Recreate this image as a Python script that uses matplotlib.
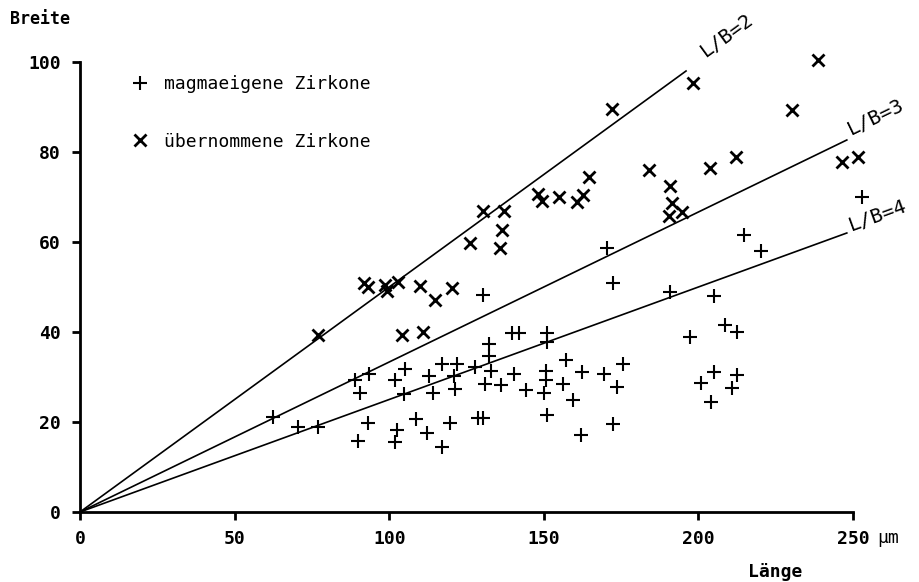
import numpy as np
import matplotlib
matplotlib.use("Agg")
import matplotlib.pyplot as plt

# magmatic zircons (+): length, width in um
magma_len = [62.5, 70.5, 77.1, 88.9, 90.6, 93.5, 93.0, 90.0, 101.8, 105.0,
             104.8, 102.4, 102.0, 108.6, 112.1, 113.0, 114.3, 117.0, 117.0, 119.6,
             120.8, 121.3, 121.8, 127.8, 128.7, 130.3, 130.2, 131.0, 132.3, 132.3,
             133.0, 136.1, 139.6, 142.1, 140.3, 144.2, 150.9, 150.9, 150.7, 150.7,
             150.1, 151.1, 156.3, 157.3, 159.5, 162.4, 162.1, 169.5, 170.5, 172.5,
             172.5, 173.7, 175.5, 190.8, 197.3, 205.0, 208.6, 212.4, 205.0, 201.0,
             204.0, 212.5, 210.8, 214.8, 220.1, 252.8]
magma_br = [21.2, 19.0, 18.8, 29.3, 26.4, 30.6, 19.7, 15.7, 29.3, 31.8,
            26.3, 18.3, 15.6, 20.7, 17.6, 30.2, 26.5, 32.8, 14.5, 19.8,
            30.3, 27.3, 32.8, 32.2, 21.0, 21.0, 48.2, 28.4, 37.3, 34.7,
            31.4, 28.3, 39.7, 39.7, 30.6, 27.2, 39.7, 37.8, 31.3, 29.4,
            26.5, 21.6, 28.5, 33.7, 25.0, 31.2, 17.1, 30.7, 58.6, 50.8,
            19.6, 27.7, 32.8, 49.0, 39.0, 48.0, 41.5, 40.0, 31.2, 28.7,
            24.5, 30.4, 27.5, 61.6, 58.1, 70.1]

# inherited zircons (x)
inh_len = [77.1, 91.7, 93.0, 98.5, 99.4, 103.0, 104.0, 110.0, 111.0, 114.9,
           120.2, 126.1, 130.4, 137.1, 136.4, 135.8, 148.0, 149.5, 155.0, 160.6,
           162.8, 164.5, 172.2, 184.0, 190.7, 191.4, 190.6, 194.8, 198.3, 203.7,
           212.3, 230.4, 238.8, 246.3, 251.7]
inh_br = [39.4, 51.0, 50.0, 50.4, 49.2, 51.2, 39.3, 50.2, 40.1, 47.1,
          49.8, 59.7, 67.0, 66.8, 62.7, 58.6, 70.7, 69.2, 70.0, 69.0,
          70.4, 74.5, 89.6, 76.0, 72.4, 68.7, 65.7, 66.6, 95.3, 76.4,
          79.0, 89.3, 100.4, 77.7, 79.0]

ratios = [2, 3, 4]
line_end = [196, 248, 248]
ratio_labels = ["L/B=2", "L/B=3", "L/B=4"]
label_off = [(22, 10), (6, 1), (6, -2)]

xticks = [0, 50, 100, 150, 200, 250]
yticks = [0, 20, 40, 60, 80, 100]

plt.rcParams['font.family'] = ['DejaVu Sans Mono', 'DejaVu Sans']

fig = plt.figure(figsize=(9.2, 5.82), dpi=100)
ax = fig.add_axes([80/920, 1-512/582, 773/920, 450/582])
ax.set_xlim(0, 250); ax.set_ylim(0, 100)

for r, xe in zip(ratios, line_end):
    ax.plot([0, xe], [0, xe/r], color='black', lw=1.2, clip_on=False)

p1, = ax.plot(magma_len, magma_br, ls='none', marker='+', ms=10.5, mew=1.5,
              color='black', clip_on=False, label='magmaeigene Zirkone')
p2, = ax.plot(inh_len, inh_br, ls='none', marker='x', ms=8.5, mew=2.0,
              color='black', clip_on=False, label='übernommene Zirkone')

# rotated ratio labels along each line
fig.canvas.draw()
for r, xe, lab, off in zip(ratios, line_end, ratio_labels, label_off):
    a = ax.transData.transform((0, 0)); b = ax.transData.transform((xe, xe/r))
    ang = np.degrees(np.arctan2(b[1]-a[1], b[0]-a[0]))
    ax.annotate(lab, (xe, xe/r), xytext=off, textcoords='offset pixels',
                rotation=ang, rotation_mode='anchor', ha='left', va='bottom',
                fontsize=14.5, annotation_clip=False)

leg = ax.legend(handles=[p1, p2], loc='upper left', frameon=False, fontsize=13,
                bbox_to_anchor=(131/920, 1-75/582), bbox_transform=fig.transFigure,
                borderpad=0, borderaxespad=0, handlelength=1.0, handletextpad=0.8,
                labelspacing=2.2, numpoints=1)

for s in ['top', 'right']:
    ax.spines[s].set_visible(False)
for s in ['left', 'bottom']:
    ax.spines[s].set_linewidth(2)
ax.set_xticks(xticks); ax.set_yticks(yticks)
ax.tick_params(axis='both', direction='out', length=6, width=2, labelsize=13)
ax.tick_params(axis='x', pad=7)
ax.tick_params(axis='y', pad=8)
for t in ax.get_xticklabels() + ax.get_yticklabels():
    t.set_fontweight('bold')

ax.annotate('µm', (250, 0), xytext=(24, -26), textcoords='offset pixels',
            ha='left', va='center', fontsize=13, annotation_clip=False)
fig.text(10/920, 1-19/582, 'Breite', ha='left', va='center', fontsize=12,
         fontweight='bold')
fig.text(775/920, 1-572/582, 'Länge', ha='center', va='center', fontsize=13,
         fontweight='bold')

fig.savefig('out.png', dpi=100)
